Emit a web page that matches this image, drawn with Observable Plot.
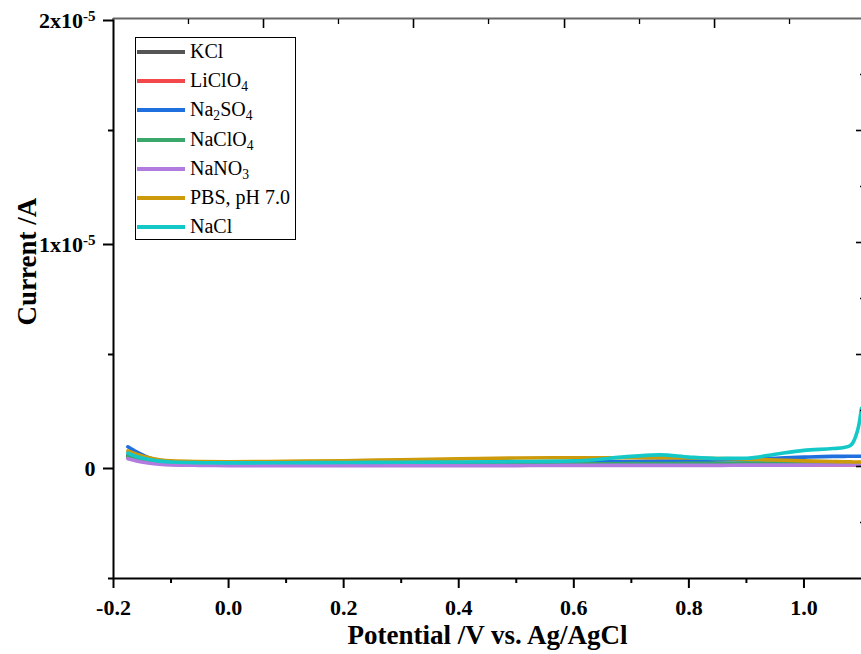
<!DOCTYPE html>
<html>
<head>
<meta charset="utf-8">
<script src="https://cdn.jsdelivr.net/npm/d3@7"></script>
<script src="https://cdn.jsdelivr.net/npm/@observablehq/plot@0.6"></script>
<style>
  body { margin: 0; background: #fff; }
  #wrap { position: relative; width: 861px; height: 654px; font-family: "Liberation Serif", "Times New Roman", serif; }
  #legend { position: absolute; left: 135px; top: 37px; width: 161px; height: 203px; border: 1.5px solid #000; box-sizing: border-box; background: #fff; }
  .row { position: absolute; left: 0; height: 0; }
  .swatch { position: absolute; left: 1px; width: 48px; height: 4px; top: -2px; }
  .lab { position: absolute; left: 54px; top: -13px; font-size: 20px; line-height: 24px; white-space: nowrap; color: #000; }
  .lab sub { font-size: 0.68em; vertical-align: -0.28em; line-height: 0; }
</style>
</head>
<body>
<div id="wrap"></div>
<script>
// ---- data (current in units of 1e-7 A) ----
const unit = 1e-7;
const potential = [-0.175, -0.16, -0.14, -0.12, -0.10, -0.05, 0, 0.1, 0.2, 0.3, 0.4, 0.5, 0.6, 0.7, 0.75, 0.8, 0.85, 0.9, 0.95, 1.0, 1.05, 1.07, 1.08, 1.085, 1.09, 1.095, 1.1];
const kcl    = [5.0,3.8,2.6,1.9,1.5,1.1,1.0,1.0,1.0,1.1,1.1,1.2,1.2,1.3,1.3,1.3,1.3,1.4,1.4,1.4,1.4,1.4,1.4,1.4,1.4,1.4,1.4];
const liclo4 = [4.0,3.0,2.0,1.4,1.0,0.7,0.6,0.6,0.6,0.6,0.6,0.6,0.6,0.7,0.7,0.7,0.7,0.7,0.7,0.7,0.7,0.7,0.7,0.7,0.7,0.7,0.7];
const na2so4 = [8.8,6.5,4.0,2.6,2.0,1.6,1.5,1.5,1.6,1.7,1.8,1.9,2.0,2.2,2.4,2.6,2.9,3.2,3.7,4.2,4.5,4.5,4.6,4.6,4.6,4.6,4.6];
const naclo4 = [4.5,3.5,2.4,1.7,1.3,1.0,1.0,1.0,1.0,1.1,1.1,1.2,1.2,1.3,1.3,1.4,1.4,1.5,1.5,1.6,1.6,1.6,1.6,1.6,1.6,1.6,1.6];
const nano3  = [3.5,2.5,1.6,1.0,0.7,0.5,0.4,0.4,0.4,0.4,0.4,0.4,0.5,0.5,0.5,0.5,0.5,0.6,0.6,0.6,0.7,0.7,0.7,0.7,0.7,0.7,0.7];
const pbs    = [7.0,5.5,4.0,3.0,2.5,2.2,2.1,2.3,2.6,3.0,3.4,3.8,3.9,3.9,3.9,3.8,3.6,3.3,2.9,2.5,2.2,2.1,2.1,2.0,2.0,2.0,2.0];
const nacl   = [6.0,4.5,3.2,2.4,2.0,1.7,1.6,1.7,1.8,1.9,2.0,2.2,2.5,4.5,5.2,4.2,3.6,3.7,5.5,7.2,8.0,8.5,9.3,10.6,13.5,18,26];

const seriesNames  = ["KCl", "LiClO4", "Na2SO4", "NaClO4", "NaNO3", "PBS, pH 7.0", "NaCl"];
const legendLabels = ["KCl", "LiClO<sub>4</sub>", "Na<sub>2</sub>SO<sub>4</sub>", "NaClO<sub>4</sub>", "NaNO<sub>3</sub>", "PBS, pH 7.0", "NaCl"];
const seriesColors = ["#555555", "#f2474b", "#1f6fdf", "#3aa86b", "#b27be0", "#cc9a0a", "#14c8c8"];
const seriesValues = [kcl, liclo4, na2so4, naclo4, nano3, pbs, nacl];

const xDomain = [-0.2, 1.1];
const yDomain = [-5e-6, 2e-5];
const xMajor = [-0.2, 0, 0.2, 0.4, 0.6, 0.8, 1.0];
const xMinor = [-0.1, 0.1, 0.3, 0.5, 0.7, 0.9];
const yMajor = [0, 1e-5, 2e-5];
const yMinor = [-5e-6, 5e-6, 1.5e-5];
const topMajor = [0.0607, 0.3214, 0.5839, 0.8446];
const topMinor = [-0.0697, 0.1910, 0.4518, 0.7142, 0.9749];
const rightMajor = [0, 5e-6, 1e-5, 1.5e-5];
const rightMinor = [-2.5e-6, 2.5e-6, 7.5e-6, 1.25e-5, 1.75e-5];

const rows = seriesNames.flatMap((name, i) =>
  potential.map((p, j) => ({name, potential: p, current: seriesValues[i][j] * unit})));

const fmtY = d => d === 0 ? "0" : `${Math.round(d * 1e5)}x10^-5`;
const blank = () => "";

const chart = Plot.plot({
  width: 861, height: 654,
  marginLeft: 113, marginRight: 0, marginTop: 18, marginBottom: 76,
  x: {domain: xDomain},
  y: {domain: yDomain},
  color: {domain: seriesNames, range: seriesColors},
  style: {fontFamily: '"Liberation Serif", "Times New Roman", serif', fontWeight: "bold", fontSize: "22px", overflow: "visible", background: "white", color: "black"},
  marks: [
    Plot.line(rows, {x: "potential", y: "current", z: "name", stroke: "name", strokeWidth: 3.6, curve: "monotone-x"}),
    Plot.ruleX([xDomain[0]], {stroke: "black", strokeWidth: 2}),
    Plot.ruleY([yDomain[0]], {stroke: "black", strokeWidth: 2}),
    Plot.ruleY([yDomain[1]], {stroke: "#666", strokeWidth: 2}),
    Plot.axisX({ticks: xMajor, tickSize: 10, tickPadding: 11, tickFormat: d => d.toFixed(1), label: null, strokeWidth: 2, fontSize: 22}),
    Plot.axisX({ticks: xMinor, tickSize: 5, tickFormat: blank, label: null, strokeWidth: 2}),
    Plot.axisX({anchor: "top", ticks: topMajor, tickSize: -9, tickFormat: blank, label: null, strokeWidth: 1.6}),
    Plot.axisX({anchor: "top", ticks: topMinor, tickSize: -5, tickFormat: blank, label: null, strokeWidth: 1.3}),
    Plot.axisY({ticks: yMajor, tickSize: 10, tickPadding: 8, tickFormat: fmtY, label: null, strokeWidth: 2, fontSize: 22, dy: 2}),
    Plot.axisY({ticks: yMinor, tickSize: 5, tickFormat: blank, label: null, strokeWidth: 2}),
    Plot.axisY({anchor: "right", ticks: rightMajor, tickSize: -6, tickFormat: blank, label: null, strokeWidth: 1.6}),
    Plot.axisY({anchor: "right", ticks: rightMinor, tickSize: -2, tickFormat: blank, label: null, strokeWidth: 1.3}),
    Plot.text(["Potential /V vs. Ag/AgCl"], {frameAnchor: "bottom", text: d => d, dy: 57, textAnchor: "middle", lineAnchor: "middle", fontSize: 27, fontWeight: "bold"}),
    Plot.text(["Current /A"], {frameAnchor: "left", text: d => d, rotate: -90, dx: -86, dy: -37, textAnchor: "middle", lineAnchor: "middle", fontSize: 27, fontWeight: "bold"})
  ]
});

// superscript exponents in tick labels
chart.querySelectorAll("text").forEach(t => {
  const s = t.textContent;
  if (s.includes("^")) {
    const [base, exp] = s.split("^");
    t.textContent = "";
    const a = document.createElementNS("http://www.w3.org/2000/svg", "tspan");
    a.textContent = base;
    const b = document.createElementNS("http://www.w3.org/2000/svg", "tspan");
    b.textContent = exp;
    b.setAttribute("dy", "-0.45em");
    b.setAttribute("font-size", "15");
    t.appendChild(a); t.appendChild(b);
  }
});

const wrap = document.getElementById("wrap");
wrap.appendChild(chart);

// legend
const legend = document.createElement("div");
legend.id = "legend";
seriesNames.forEach((name, i) => {
  const row = document.createElement("div");
  row.className = "row";
  row.style.top = (14 + i * 29.17) + "px";
  row.innerHTML = `<span class="swatch" style="background:${seriesColors[i]}"></span><span class="lab">${legendLabels[i]}</span>`;
  legend.appendChild(row);
});
wrap.appendChild(legend);
</script>
</body>
</html>
